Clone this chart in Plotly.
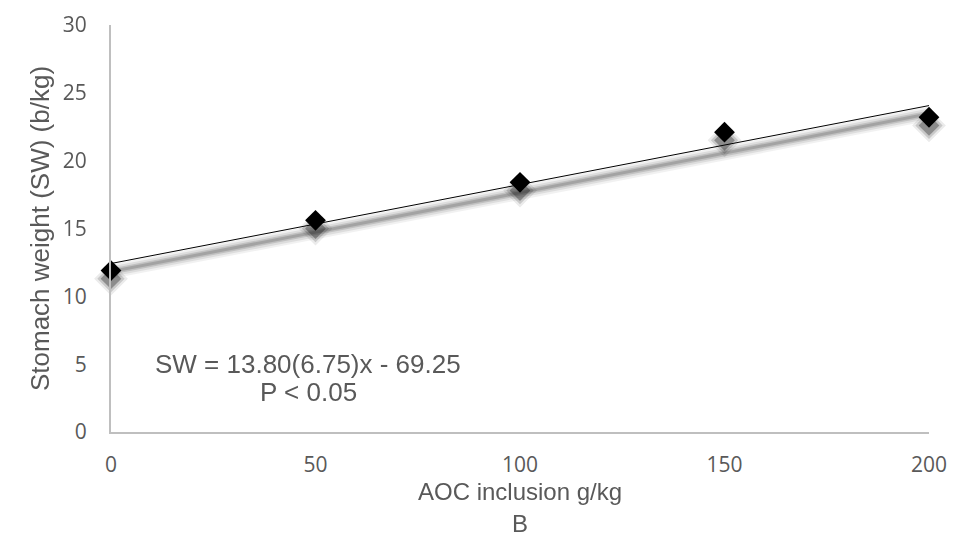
import numpy as np
import plotly.graph_objects as go

# Data
aoc_inclusion = [0, 50, 100, 150, 200]
stomach_weight = [11.9, 15.6, 18.4, 22.1, 23.2]
x_ticks = [0, 50, 100, 150, 200]
y_ticks = [0, 5, 10, 15, 20, 25, 30]

# Linear trend line fitted to the data
slope, intercept = np.polyfit(aoc_inclusion, stomach_weight, 1)
trend_x = [aoc_inclusion[0], aoc_inclusion[-1]]
trend_y = [intercept + slope * v for v in trend_x]

SHADOW = 0.6  # shadow offset in y units (~8px)
GRAY = "#595959"
AXIS = "#BFBFBF"
TXT = "Liberation Sans, Arial"

fig = go.Figure()

# soft shadow of the trend line
for w, op in [(14, 0.05), (10, 0.08), (6, 0.12), (3, 0.15)]:
    fig.add_trace(go.Scatter(
        x=trend_x, y=[v - SHADOW for v in trend_y], mode="lines",
        line=dict(color="black", width=w), opacity=op, cliponaxis=False,
        hoverinfo="skip", showlegend=False))

# soft shadow of markers
for s, op in [(26, 0.08), (21, 0.15), (16, 0.3)]:
    fig.add_trace(go.Scatter(
        x=aoc_inclusion, y=[v - SHADOW for v in stomach_weight], mode="markers",
        marker=dict(symbol="diamond", size=s, color="black", line=dict(width=0)),
        opacity=op, cliponaxis=False, hoverinfo="skip", showlegend=False))

# trend line
fig.add_trace(go.Scatter(
    x=trend_x, y=trend_y, mode="lines", cliponaxis=False,
    line=dict(color="black", width=1), showlegend=False))

# data points
fig.add_trace(go.Scatter(
    x=aoc_inclusion, y=stomach_weight, mode="markers", cliponaxis=False,
    marker=dict(symbol="diamond", size=16, color="black", line=dict(width=0)),
    showlegend=False))

fig.add_annotation(text="SW = 13.80(6.75)x - 69.25", x=0.241, y=0.167,
                   xref="paper", yref="paper", showarrow=False,
                   xanchor="center", yanchor="middle",
                   font=dict(family=TXT, size=26, color=GRAY))
fig.add_annotation(text="P < 0.05", x=0.241, y=0.098,
                   xref="paper", yref="paper", showarrow=False,
                   xanchor="center", yanchor="middle",
                   font=dict(family=TXT, size=26, color=GRAY))
# panel letter under the x-axis title
fig.add_annotation(text="B", x=0.5, y=-0.226,
                   xref="paper", yref="paper", showarrow=False,
                   xanchor="center", yanchor="middle", borderpad=0,
                   font=dict(family=TXT, size=24, color=GRAY))

fig.update_layout(
    width=958, height=538,
    margin=dict(l=103, r=37, t=17, b=114),
    plot_bgcolor="white", paper_bgcolor="white",
    xaxis=dict(range=[0, 200], tickvals=x_ticks, showgrid=False, zeroline=False,
               showline=True, linecolor=AXIS, linewidth=2, ticks="",
               ticklabelstandoff=13,
               tickfont=dict(family="Open Sans", size=21, color=GRAY),
               title=dict(text="AOC inclusion g/kg", standoff=4,
                          font=dict(family=TXT, size=24, color=GRAY))),
    yaxis=dict(range=[0, 30], tickvals=y_ticks, showgrid=False, zeroline=False,
               showline=True, linecolor=AXIS, linewidth=2, ticks="",
               ticklabelstandoff=18,
               tickfont=dict(family="Open Sans", size=21, color=GRAY),
               title=dict(text="Stomach weight (SW) (b/kg)", standoff=6,
                          font=dict(family=TXT, size=26, color=GRAY))),
)
fig.update_xaxes(automargin=False)
fig.update_yaxes(automargin=False)

fig.write_html("out.html")
